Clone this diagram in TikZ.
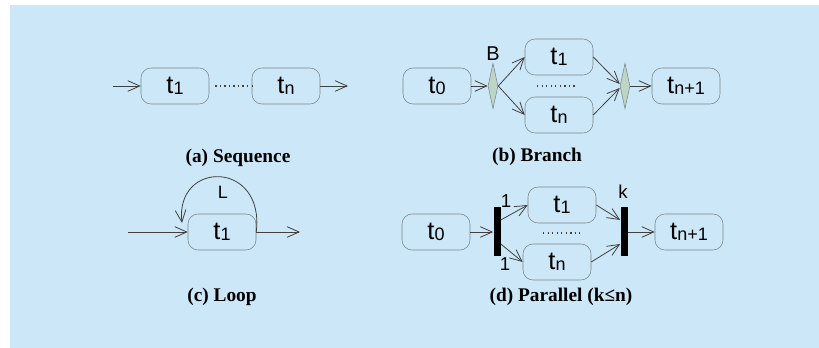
\documentclass[tikz,border=0pt]{standalone}
\usepackage{fontspec}
\setmainfont{Liberation Serif}
\setsansfont{Liberation Sans}
\usetikzlibrary{arrows.meta,shapes.geometric,positioning}

\definecolor{panelblue}{RGB}{204,232,248}
\definecolor{boxgrey}{RGB}{120,132,140}
\definecolor{linegrey}{RGB}{64,64,64}
\definecolor{gatefill}{RGB}{190,212,196}

% task name with a subscript, as t_1
\newcommand{\tsub}[1]{t\raisebox{-0.8pt}{\fontsize{13.5}{13.5}\selectfont #1}}

\tikzset{
  task/.style={draw=boxgrey, rounded corners=7.5pt, minimum width=51pt,
    minimum height=27pt, inner sep=0pt, font=\sffamily\fontsize{19}{19}\selectfont},
  flow/.style={draw=linegrey, line width=0.6pt, -{Straight Barb[length=9pt,width=8pt]}},
  gate/.style={diamond, draw=boxgrey, fill=gatefill, minimum width=7.5pt,
    minimum height=34pt, inner sep=0pt},
  bar/.style={fill=black, minimum width=5.25pt, minimum height=36.75pt, inner sep=0pt},
  dots/.style={draw=linegrey, line width=1pt, dash pattern=on 1pt off 2.4pt},
  caption/.style={font=\bfseries\fontsize{14.5}{14.5}\selectfont},
  tag/.style={font=\sffamily\fontsize{14}{14}\selectfont, inner sep=0pt}
}

\begin{document}
\begin{tikzpicture}[x=0.75pt,y=-0.75pt]
  \useasboundingbox (0,0) rectangle (819,348);
  \fill[panelblue] (10,5) rectangle (819,348);

  % (a) sequence
  \coordinate (seqin) at (113,86);
  \node[task] (a1) at (175,86) {\tsub{1}};
  \node[task] (an) at (286,86) {\tsub{n}};
  \coordinate (seqout) at (348,86);
  \draw[flow] (seqin) -- (a1.west);
  \draw[dots] ([xshift=4.5pt]a1.east) -- (an.west);
  \draw[flow] (an.east) -- (seqout);
  \node[caption] at (238,158) {(a) Sequence};

  % (b) branch
  \node[task] (b0) at (437,86) {\tsub{0}};
  \node[gate] (bsplit) at (493,86) {};
  \node[tag, font=\sffamily\fontsize{15}{15}\selectfont] (blab) at (493,54) {B};
  \node[task] (b1) at (559,57) {\tsub{1}};
  \node[task] (bn) at (559,115) {\tsub{n}};
  \node[gate] (bjoin) at (625,86) {};
  \node[task] (bnext) at (686,86) {\tsub{n+1}};
  \draw[flow] (b0.east) -- (bsplit.west);
  \draw[flow] (bsplit.east) -- (b1.west);
  \draw[flow] (bsplit.east) -- (bn.west);
  \draw[flow] (b1.east) -- ([yshift=1.5pt]bjoin.west);
  \draw[flow] (bn.east) -- ([yshift=-1.5pt]bjoin.west);
  \draw[flow] (bjoin.east) -- (bnext.west);
  \draw[dots] (537,86) -- (575,86);
  \node[caption] at (537,157) {(b) Branch};

  % (c) loop
  \coordinate (loopin) at (128,232);
  \node[task] (c1) at (222,232) {\tsub{1}};
  \coordinate (loopout) at (300,232);
  \coordinate (loopend) at (182,223);
  \draw[flow] (loopin) -- (c1.west);
  \draw[flow] (c1.east) -- (loopout);
  \draw[flow] (c1.east) .. controls (265,160) and (175,160) .. (loopend);
  \node[tag, font=\sffamily\fontsize{13.5}{13.5}\selectfont] (llab) at (223,192) {L};
  \node[caption] at (222,297) {(c) Loop};

  % (d) parallel
  \node[task] (d0) at (436,232) {\tsub{0}};
  \node[bar] (dsplit) at (497,232) {};
  \node[task] (d1) at (562,205) {\tsub{1}};
  \node[task] (dn) at (557,262) {\tsub{n}};
  \node[bar] (djoin) at (624,232) {};
  \node[task] (dnext) at (689,232) {\tsub{n+1}};
  \node[tag] (one1) at (506,201) {1};
  \node[tag] (onen) at (505,264) {1};
  \node[tag] (klab) at (623,192) {k};
  \draw[flow] (d0.east) -- (dsplit.west);
  \draw[flow] ([yshift=9pt]dsplit.east) -- (d1.west);
  \draw[flow] ([yshift=-9pt]dsplit.east) -- (dn.west);
  \draw[flow] (d1.east) -- ([yshift=9pt]djoin.west);
  \draw[flow] (dn.east) -- ([yshift=-9pt]djoin.west);
  \draw[flow] (djoin.east) -- (dnext.west);
  \draw[dots] (543,233) -- (580,233);
  \node[caption] at (561,297) {(d) Parallel (k≤n)};
\end{tikzpicture}
\end{document}
